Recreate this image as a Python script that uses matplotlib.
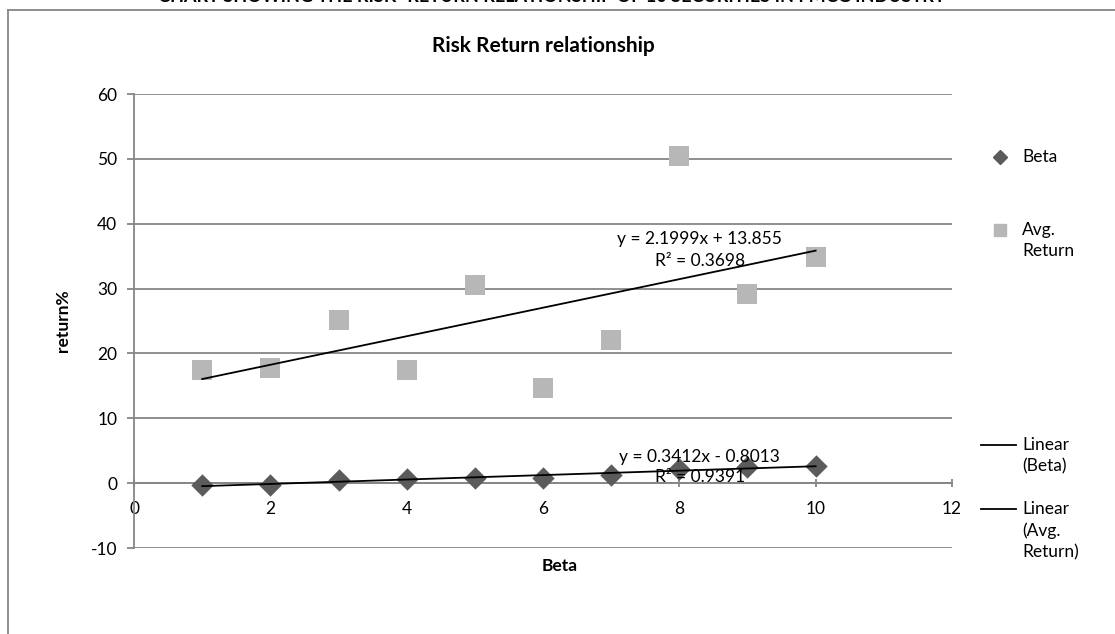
import matplotlib.pyplot as plt
from matplotlib.lines import Line2D
import numpy as np

plt.rcParams['font.family'] = ['Lato', 'DejaVu Sans']
plt.rcParams['axes.unicode_minus'] = False

# Risk / return figures for the ten securities
securities = np.arange(1, 11)
beta = [-0.35, -0.25, 0.45, 0.65, 0.75, 0.85, 1.2, 2.15, 2.45, 2.7]
avg_return = [17.5, 17.7, 25.2, 17.4, 30.6, 14.7, 22.0, 50.5, 29.2, 34.8]

# Excel trendline coefficients (slope, intercept, R^2)
beta_fit = (0.3412, -0.8013, 0.9391)
ret_fit = (2.1999, 13.855, 0.3698)

x_ticks = [0, 2, 4, 6, 8, 10, 12]
y_ticks = [-10, 0, 10, 20, 30, 40, 50, 60]

W, H = 1115, 634
fig = plt.figure(figsize=(W / 100, H / 100), dpi=100)
ax = fig.add_axes([0.1202, 0.1356, 0.7336, 0.7161])

grey = '#868686'
diamond_col = '#5b5b5b'
square_col = '#b7b7b7'
fs = 12.5

ax.set_xlim(0, 12)
ax.set_ylim(-10, 60)
ax.set_yticks(y_ticks)
ax.set_xticks(x_ticks)
ax.yaxis.grid(True, color=grey, lw=1.3)
ax.set_axisbelow(True)
for s in ['top', 'right']:
    ax.spines[s].set_visible(False)
ax.spines['left'].set_color(grey)
ax.spines['left'].set_linewidth(1.3)
ax.spines['bottom'].set_position(('data', 0))
ax.spines['bottom'].set_color(grey)
ax.spines['bottom'].set_linewidth(1.3)
ax.tick_params(axis='y', length=5, color=grey, width=1.3, labelsize=fs, pad=7)
ax.tick_params(axis='x', length=6, direction='inout', color=grey, width=1.3,
               labelsize=fs, pad=10)

ax.scatter(securities, avg_return, marker='s', s=190, color=square_col,
           zorder=3, linewidths=0)
ax.scatter(securities, beta, marker='D', s=130, color=diamond_col,
           zorder=3, linewidths=0)

xs = np.array([securities[0], securities[-1]])
ax.plot(xs, ret_fit[0] * xs + ret_fit[1], color='black', lw=1.3, zorder=4)
ax.plot(xs, beta_fit[0] * xs + beta_fit[1], color='black', lw=1.3, zorder=4)

ax.text(8.3, 37.7, f'y = {ret_fit[0]}x + {ret_fit[1]}', ha='center',
        va='center', fontsize=fs, zorder=5)
ax.text(8.3, 34.3, f'R² = {ret_fit[2]}', ha='center', va='center',
        fontsize=fs, zorder=5)
ax.text(8.3, 4.0, f'y = {beta_fit[0]}x - {abs(beta_fit[1])}', ha='center',
        va='center', fontsize=fs, zorder=5)
ax.text(8.3, 0.9, f'R² = {beta_fit[2]}', ha='center', va='center',
        fontsize=fs, zorder=5)

ax.set_title('Risk Return relationship', fontsize=15, fontweight='bold', pad=30)
ax.set_xlabel('Beta', fontsize=fs, fontweight='bold')
ax.xaxis.set_label_coords(0.52, -0.022)
ax.set_ylabel('return%', fontsize=fs, fontweight='bold', labelpad=14)


def px(x, y):
    return x / W, 1 - y / H


# legend on the right, handles level with the first line of each label
fig.add_artist(Line2D(*zip(px(1000, 157)), marker='D', ms=7, ls='none',
                      color=diamond_col))
fig.add_artist(Line2D(*zip(px(1000, 230)), marker='s', ms=9, ls='none',
                      color=square_col))
for y in (445, 509):
    a, b = px(981, y), px(1016, y)
    fig.add_artist(Line2D([a[0], b[0]], [a[1], b[1]], color='black', lw=1.3))
legend_text = [('Beta', 157), ('Avg.\nReturn', 230), ('Linear\n(Beta)', 445),
               ('Linear\n(Avg.\nReturn)', 509)]
for label, y in legend_text:
    tx, ty = px(1022, y - 8)
    fig.text(tx, ty, label, ha='left', va='top', fontsize=fs, linespacing=1.4)

# outer chart frame and the clipped heading above it
fig.add_artist(Line2D([8 / W, 1], [1 - 10 / H] * 2, color=grey, lw=1.3))
fig.add_artist(Line2D([8 / W] * 2, [0, 1 - 10 / H], color=grey, lw=1.3))
fig.text(0.495, 1.0 + 3 / H, 'CHART SHOWING THE RISK- RETURN RELATIONSHIP OF 10 SECURITIES IN FMCG INDUSTRY',
         ha='center', va='center', fontsize=13, fontweight='bold')

fig.savefig('out.png', dpi=100)
